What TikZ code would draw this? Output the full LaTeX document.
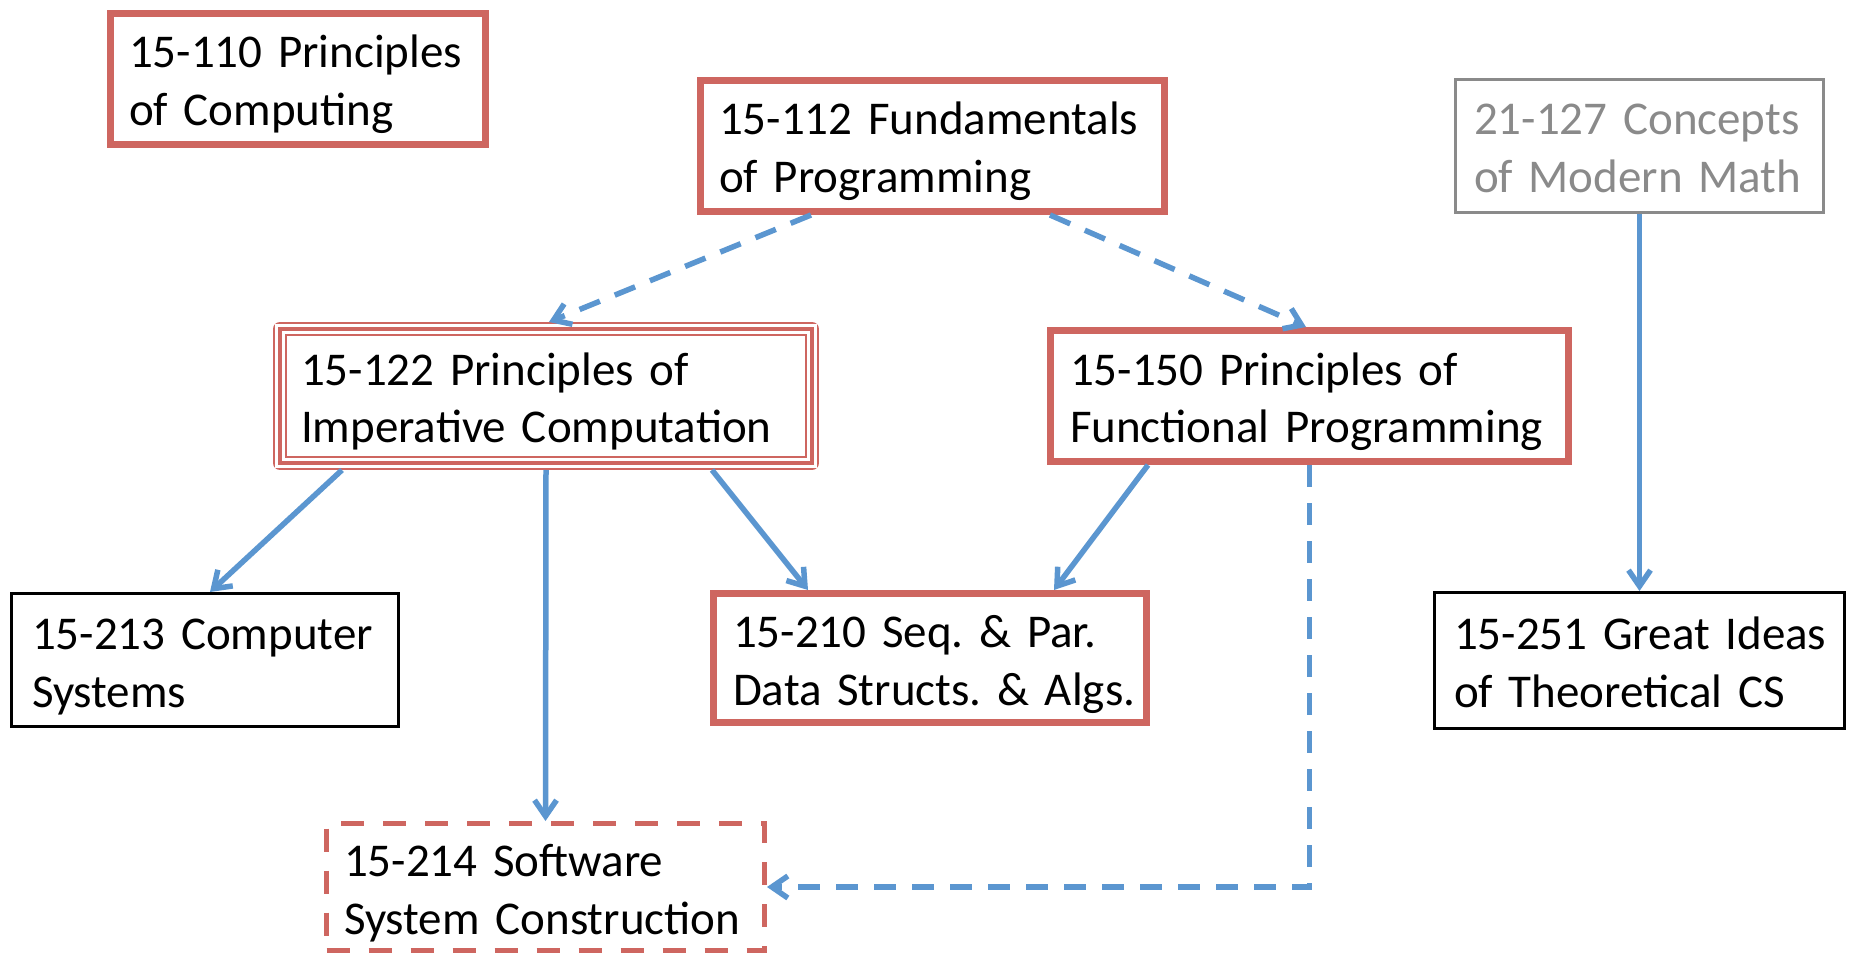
\documentclass[tikz,border=0pt]{standalone}
\usepackage{fontspec}
\setmainfont{Carlito}
\usepackage{tikz}
\usetikzlibrary{arrows.meta}
\definecolor{boxred}{RGB}{206,102,96}
\definecolor{linkblue}{RGB}{91,150,208}
\definecolor{mathgray}{RGB}{138,138,138}
\tikzstyle{course} = [rectangle, align=left, inner ysep=0pt, font=\fontsize{47}{58}\selectfont, execute at begin node={\frenchspacing\rightskip=0pt plus 1fil minus 60pt\rule{0pt}{46pt}}, execute at end node={\rule[-10pt]{0pt}{10pt}}]
\tikzstyle{core} = [course, draw=boxred, line width=7pt]
\tikzstyle{plain} = [course, draw=black, line width=3pt]
\tikzstyle{math} = [course, draw=mathgray, text=mathgray, line width=3pt]
\tikzstyle{triple} = [course, draw=boxred, line width=14pt, line join=round, postaction={draw=white, line width=9.5pt, line join=miter}, postaction={draw=boxred, line width=4.5pt, line join=miter}]
\tikzstyle{planned} = [course, draw=boxred, line width=5pt, dash pattern=on 23pt off 19pt]
\tikzstyle{arrow} = [draw=linkblue, line width=5.5pt, -{Straight Barb[length=16pt,width=22pt]}]
\tikzstyle{dasharrow} = [arrow, dash pattern=on 22pt off 16pt]

\begin{document}
\begin{tikzpicture}[x=1pt, y=-1pt]
        \useasboundingbox (0,0) rectangle (1850,957);
        \node[core, text width=338pt, inner xsep=18.5pt, minimum height=131pt] (c110) at (298,79) {15-110 Principles\\of Computing};
        \node[core, text width=427pt, inner xsep=18.5pt, minimum height=131pt] (c112) at (932.5,146) {15-112 Fundamentals\\of Programming};
        \node[math, text width=331pt, inner xsep=18.5pt, minimum height=133pt] (c127) at (1639.5,146) {21-127 Concepts\\of Modern Math};
        \node[triple, text width=490pt, inner xsep=21pt, minimum height=134pt] (c122) at (546,396) {15-122 Principles of\\Imperative Computation};
        \node[core, text width=479pt, inner xsep=19.5pt, minimum height=131pt] (c150) at (1309.5,396) {15-150 Principles of\\Functional Programming};
        \node[plain, text width=346pt, inner xsep=20.5pt, minimum height=133pt] (c213) at (205,660) {15-213 Computer\\Systems};
        \node[core, text width=394pt, inner xsep=19.5pt, minimum height=129pt] (c210) at (930,658) {15-210 Seq. \& Par.\\Data Structs. \& Algs.};
        \node[plain, text width=371pt, inner xsep=19.5pt, minimum height=136pt] (c251) at (1639.5,660.5) {15-251 Great Ideas\\of Theoretical CS};
        \node[planned, text width=403pt, inner xsep=17.5pt, minimum height=127pt] (c214) at (545.5,887) {15-214 Software\\System Construction};

        \draw[dasharrow] ([xshift=-121.5pt]c112.south) -- ([xshift=3pt]c122.north);
        \draw[dasharrow] ([xshift=117.5pt]c112.south) -- ([xshift=-3.5pt]c150.north);
        \draw[arrow] ([xshift=-204pt]c122.south) -- ([xshift=5pt]c213.north);
        \draw[arrow] (c122.south) -- (c214.north);
        \draw[arrow] ([xshift=166pt]c122.south) -- ([xshift=-122pt]c210.north);
        \draw[arrow] ([xshift=-161.5pt]c150.south) -- ([xshift=124pt]c210.north);
        \draw[dasharrow] (c150.south) |- (c214.east);
        \draw[arrow] (c127.south) -- (c251.north);
\end{tikzpicture}
\end{document}
